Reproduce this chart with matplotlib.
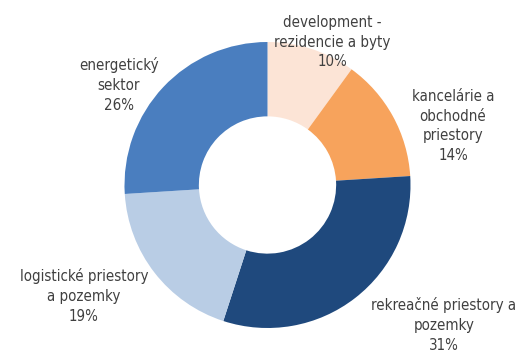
import matplotlib
matplotlib.use("Agg")
import matplotlib.pyplot as plt

# Dati: struttura portafoglio (%)
categories = [
    "development -\nrezidencie a byty",
    "kancelárie a\nobchodné\npriestory",
    "rekreačné priestory a\npozemky",
    "logistické priestory\na pozemky",
    "energetický\nsektor",
]
shares = [10, 14, 31, 19, 26]
colors = ["#FCE4D6", "#F7A35C", "#1F497D", "#B9CDE5", "#4A7EBF"]

# posizioni etichette (pixel nella figura 521x353)
label_pos = [(332, 42), (453, 126), (444, 325), (84, 296), (119, 85)]

W, H = 521, 353
fig = plt.figure(figsize=(W / 100, H / 100), dpi=100)
# donut: centro ~(267, 185) px, raggio ~143 px
ax = fig.add_axes([124.5 / W, (H - 328) / H, 286 / W, 286 / H])

ax.pie(
    shares,
    colors=colors,
    startangle=90,
    counterclock=False,
    radius=1.0,
    wedgeprops=dict(width=0.52, edgecolor="none"),
)
ax.set_xlim(-1, 1)
ax.set_ylim(-1, 1)
ax.axis("off")

for cat, val, (px, py) in zip(categories, shares, label_pos):
    fig.text(
        px / W, 1 - py / H,
        f"{cat}\n{val}%",
        ha="center", va="center",
        fontsize=10.8, color="#404040",
        family="DejaVu Sans", fontstretch="condensed",
        linespacing=1.4,
    )

fig.savefig("out.png", dpi=100)
